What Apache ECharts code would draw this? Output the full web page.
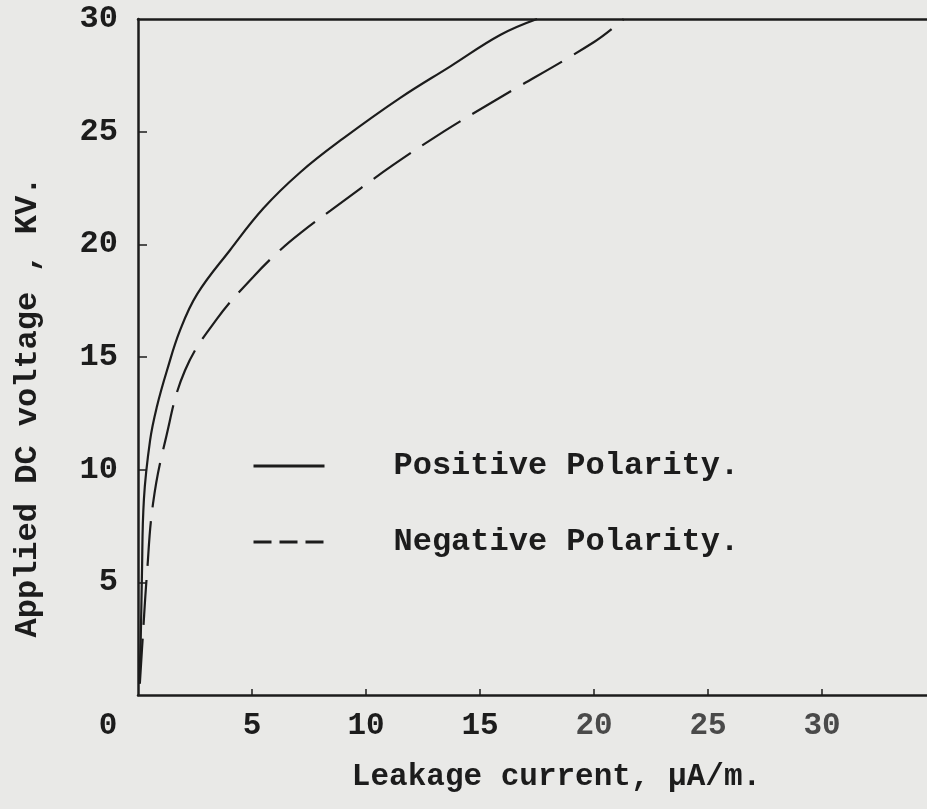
<!DOCTYPE html>
<html>
<head>
<meta charset="utf-8">
<script src="https://cdn.jsdelivr.net/npm/echarts@6/dist/echarts.min.js"></script>
<style>
html,body{margin:0;padding:0;background:#e9e9e7;}
#chart{width:927px;height:809px;}
</style>
</head>
<body>
<div id="chart"></div>
<script>
// Data (x: leakage current µA/m, y: applied DC voltage kV)
var positiveX = [0.05, 0.12, 0.17, 0.26, 0.53, 0.83, 1.27, 1.85, 2.6, 4.04, 5.5, 7.12, 9.0, 11.5, 13.7, 15.9, 17.5];
var positiveY = [0.5, 2.5, 5.2, 8.7, 11.3, 12.8, 14.4, 16.2, 17.8, 19.75, 21.6, 23.2, 24.7, 26.5, 27.9, 29.3, 30];
var negativeX = [0.08, 0.22, 0.38, 0.66, 1.2, 2.06, 3.47, 5.05, 6.24, 7.12, 8.44, 11.16, 13.4, 15.77, 20.0, 21.3];
var negativeY = [0.5, 2.75, 5.2, 8.5, 11.3, 14.4, 16.7, 18.55, 19.75, 20.5, 21.5, 23.5, 25.0, 26.45, 28.98, 30];
var xTickLabels = [0, 5, 10, 15, 20, 25, 30];
var yTickLabels = [5, 10, 15, 20, 25, 30];
var seriesNames = ['Positive Polarity.', 'Negative Polarity.'];

function pairs(xs, ys) { return xs.map(function (x, i) { return [x, ys[i]]; }); }

var FONT = '"Liberation Mono", "Courier New", monospace';
var INK = '#1c1c1c';

var chart = echarts.init(document.getElementById('chart'), null, {renderer: 'canvas'});
chart.setOption({
  backgroundColor: '#e9e9e7',
  animation: false,
  grid: {left: 138, right: 0, top: 19, bottom: 114, outerBoundsMode: 'none'},
  legend: {
    orient: 'vertical',
    left: 252, top: 450, padding: 0,
    itemWidth: 71, itemHeight: 12, itemGap: 44,
    textStyle: {fontFamily: FONT, fontSize: 32, fontWeight: 'bold', color: INK, padding: [0, 0, 0, 64], lineHeight: 32},
    data: [
      {name: seriesNames[0], lineStyle: {width: 3}, itemStyle: {opacity: 0}},
      {name: seriesNames[1], lineStyle: {width: 3, type: [18, 8]}, itemStyle: {opacity: 0}}
    ]
  },
  xAxis: [{
    type: 'value', min: 0, max: 34.6, interval: 5,
    name: 'Leakage current, μA/m.', nameLocation: 'middle', nameGap: 67,
    nameTextStyle: {fontFamily: FONT, fontSize: 31, fontWeight: 'bold', color: INK, padding: [0, 0, 0, 48]},
    axisLine: {show: true, lineStyle: {color: INK, width: 2.5}},
    axisTick: {show: true, inside: true, length: 6, customValues: [5, 10, 15, 20, 25, 30], lineStyle: {color: INK, width: 1.5}},
    axisLabel: {
      customValues: xTickLabels, margin: 16,
      fontFamily: FONT, fontSize: 31, fontWeight: 'bold', color: INK,
      formatter: function (v) { return v === 0 ? '{z|0}' : (v >= 20 ? '{g|' + v + '}' : String(v)); },
      rich: {
        z: {fontFamily: FONT, fontSize: 31, fontWeight: 'bold', color: INK, padding: [0, 60, 0, 0]},
        g: {fontFamily: FONT, fontSize: 31, color: '#4a4a4a'}
      }
    },
    splitLine: {show: false}
  }, {
    type: 'value', min: 0, max: 34.6, position: 'top',
    axisLine: {show: true, lineStyle: {color: INK, width: 2.5}},
    axisTick: {show: false}, axisLabel: {show: false}, splitLine: {show: false}
  }],
  yAxis: {
    type: 'value', min: 0, max: 30, interval: 5,
    name: 'Applied DC voltage , KV.', nameLocation: 'middle', nameGap: 94, nameRotate: 90,
    nameTextStyle: {fontFamily: FONT, fontSize: 32, fontWeight: 'bold', color: INK, padding: [0, 100, 0, 0]},
    axisLine: {show: true, lineStyle: {color: INK, width: 2.5}},
    axisTick: {show: true, inside: true, length: 9, customValues: [5, 10, 15, 20, 25], lineStyle: {color: INK, width: 1.5}},
    axisLabel: {customValues: yTickLabels, margin: 20, fontFamily: FONT, fontSize: 32, fontWeight: 'bold', color: INK},
    splitLine: {show: false}
  },
  series: [{
    name: seriesNames[0], type: 'line', data: pairs(positiveX, positiveY),
    smooth: 0.4, showSymbol: false, symbol: 'none',
    lineStyle: {color: INK, width: 2.2}, itemStyle: {color: INK}
  }, {
    name: seriesNames[1], type: 'line', data: pairs(negativeX, negativeY),
    smooth: 0.4, showSymbol: false, symbol: 'none',
    lineStyle: {color: INK, width: 2.2, type: [45, 14]}, itemStyle: {color: INK}
  }]
});
</script>
</body>
</html>
